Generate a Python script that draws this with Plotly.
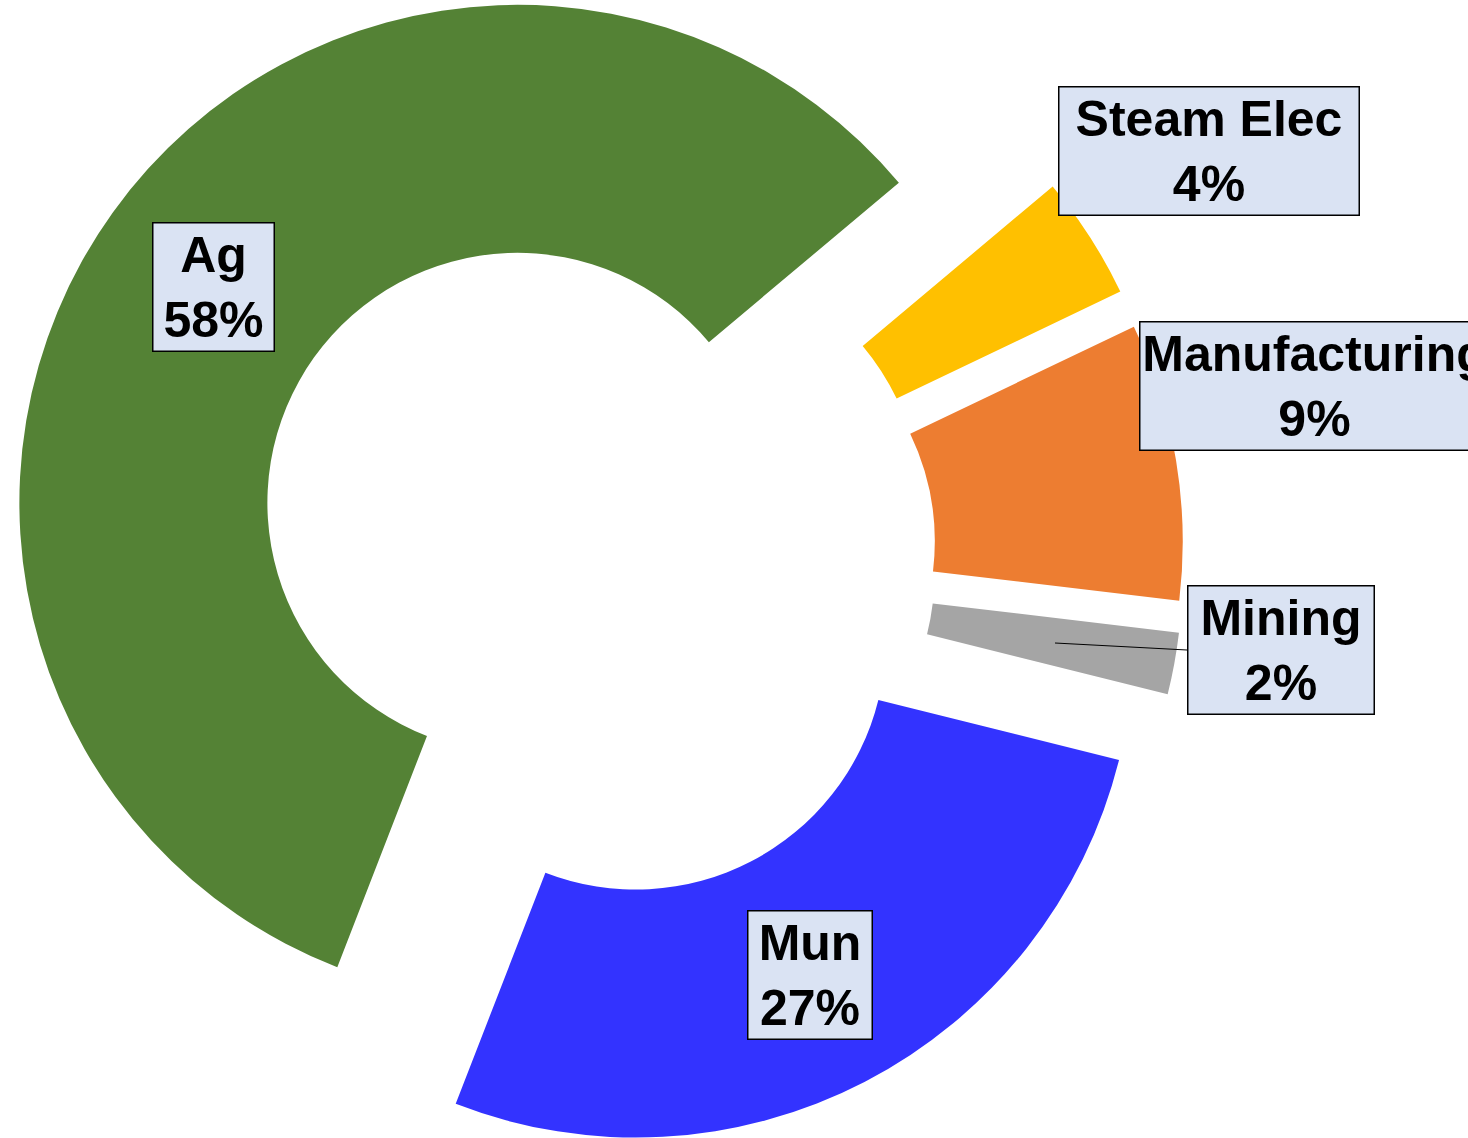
import math
import plotly.graph_objects as go

# ---- data ----
categories = ["Ag", "Mun", "Mining", "Manufacturing", "Steam Elec"]
shares = [58, 27, 2, 9, 4]
colors = ["#548235", "#3333FF", "#A5A5A5", "#ED7D31", "#FFC000"]

# ---- layout / style constants (pixels) ----
W, H = 1468, 1138
CENTER = (593, 557)      # common centre of the exploded donut
RADIUS = 498             # outer radius
PULL = 93                # explode distance
HOLE = 0.502
START_MATH = 40.0        # first slice starts here (math angle, deg) and runs counter-clockwise

total = sum(shares)
# plotly (counterclockwise): first slice lies clockwise of the rotation point
ROTATION = 90 - (START_MATH + shares[0] / total * 360.0)

fig = go.Figure()

cum = 0.0
for i, (cat, val) in enumerate(zip(categories, shares)):
    start = START_MATH + cum / total * 360.0
    mid = math.radians(start + val / total * 180.0)
    cum += val
    cx = CENTER[0] + PULL * math.cos(mid)
    cy = CENTER[1] - PULL * math.sin(mid)
    x0 = max(0.0, (cx - RADIUS) / W)
    x1 = min(1.0, (cx + RADIUS) / W)
    y0 = max(0.0, 1 - (cy + RADIUS) / H)
    y1 = min(1.0, 1 - (cy - RADIUS) / H)
    slice_colors = [c if j == i else "rgba(0,0,0,0)" for j, c in enumerate(colors)]
    fig.add_trace(go.Pie(
        labels=categories,
        values=shares,
        sort=False,
        direction="counterclockwise",
        rotation=ROTATION,
        hole=HOLE,
        marker=dict(colors=slice_colors, line=dict(width=0)),
        textinfo="none",
        hoverinfo="label+percent",
        domain=dict(x=[x0, x1], y=[y0, y1]),
        showlegend=False,
        name=cat,
    ))

# label boxes: (centre x, centre y, box width) in pixels
label_pos = {
    "Ag": (213, 287, 122),
    "Mun": (810, 975, 125),
    "Mining": (1281, 650, 187),
    "Manufacturing": (1314, 386, 350),
    "Steam Elec": (1209, 151, 301),
}
BOX_H = 129
PAD = 2
annotations = []
for cat, val in zip(categories, shares):
    x, y, bw = label_pos[cat]
    annotations.append(dict(
        x=x / W, y=1 - y / H, xref="paper", yref="paper",
        xanchor="center", yanchor="middle",
        text=f"{cat}<br>{val}%",
        showarrow=False,
        font=dict(family="Arial, Liberation Sans, sans-serif", size=50,
                  color="black", weight="bold"),
        bgcolor="#DAE3F3", bordercolor="black", borderwidth=1.5,
        borderpad=PAD, width=bw - 2 * PAD - 2, height=BOX_H - 2 * PAD - 2,
        align="center", valign="middle",
    ))

# leader line for Mining
shapes = [dict(type="line", xref="paper", yref="paper",
               x0=1055 / W, y0=1 - 643 / H, x1=1187 / W, y1=1 - 650 / H,
               line=dict(color="black", width=1), layer="above")]

fig.update_layout(
    width=W, height=H,
    margin=dict(l=0, r=0, t=0, b=0),
    paper_bgcolor="white", plot_bgcolor="white",
    annotations=annotations, shapes=shapes,
)

fig.write_html(
    "out.html",
    config={"displayModeBar": False},
    post_script="document.body.style.margin='0';document.body.style.overflow='hidden';",
)
